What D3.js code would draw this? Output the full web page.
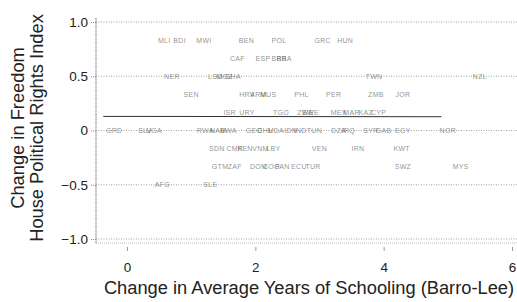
<!DOCTYPE html>
<html>
<head>
<meta charset="utf-8">
<script src="https://cdn.jsdelivr.net/npm/d3@7"></script>
<style>
  body { margin: 0; background: #fff; }
  text { font-family: "Liberation Sans", Arial, sans-serif; }
  .grid { stroke: #8a8a8a; stroke-width: 0.8; stroke-dasharray: 1,1.5; }
  .lbl { font-size: 7px; letter-spacing: 0.3px; fill: #444; fill-opacity: 0.6; }
</style>
</head>
<body>
<script>
(function(){

//country codes, schooling change (x) and FH change (y)
var codes = ["MLI","BDI","MWI","BEN","POL","GRC","HUN",
             "CAF","ESP","BRB","BRA",
             "NER","LSO","MOZ","GHA","TWN","NZL",
             "SEN","HRV","ARM","MUS","PHL","PER","ZMB","JOR",
             "ISR","URY","TGO","ZWE","SWE","MEX","MAR","KAZ","CYP",
             "GRD","SLV","UGA","RWA","NAM","BWA","GEO","CHL","MDA","IDN","IND","TUN","DZA","IRQ","SYR","GAB","EGY","NOR",
             "SDN","CMR","KEN","VNM","LBY","VEN","IRN","KWT",
             "GTM","ZAF","DOM","COG","PAN","ECU","TUR","SWZ","MYS",
             "AFG","SLE"];
var schooling = [0.58, 0.82, 1.20, 1.86, 2.37, 3.05, 3.40,
                 1.72, 2.12, 2.37, 2.45,
                 0.70, 1.38, 1.52, 1.65, 3.85, 5.50,
                 1.00, 1.87, 2.05, 2.20, 2.72, 3.22, 3.88, 4.30,
                 1.60, 1.87, 2.40, 2.78, 2.86, 3.30, 3.50, 3.72, 3.92,
                 -0.20, 0.28, 0.42, 1.22, 1.42, 1.58, 1.98, 2.15, 2.32, 2.55, 2.70, 2.92, 3.30, 3.45, 3.80, 4.00, 4.30, 5.00,
                 1.40, 1.68, 1.84, 2.08, 2.28, 3.00, 3.60, 4.28,
                 1.45, 1.68, 2.05, 2.25, 2.42, 2.68, 2.90, 4.30, 5.20,
                 0.55, 1.30];
var fhChange = [0.833, 0.833, 0.833, 0.833, 0.833, 0.833, 0.833,
                0.667, 0.667, 0.667, 0.667,
                0.5, 0.5, 0.5, 0.5, 0.5, 0.5,
                0.333, 0.333, 0.333, 0.333, 0.333, 0.333, 0.333, 0.333,
                0.167, 0.167, 0.167, 0.167, 0.167, 0.167, 0.167, 0.167, 0.167,
                0, 0, 0, 0, 0, 0, 0, 0, 0, 0, 0, 0, 0, 0, 0, 0, 0, 0,
                -0.167, -0.167, -0.167, -0.167, -0.167, -0.167, -0.167, -0.167,
                -0.333, -0.333, -0.333, -0.333, -0.333, -0.333, -0.333, -0.333, -0.333,
                -0.5, -0.5];

//fitted line endpoints
var fitX = [-0.37, 4.9];
var fitY = [0.13, 0.127];

var xTicks = [0, 2, 4, 6];
var yTicks = [1.0, 0.5, 0, -0.5, -1.0];

var width = 517,
    height = 302;

var svg = d3.select("body")
    .append("svg")
    .attr("width", width)
    .attr("height", height);

var x = d3.scaleLinear().domain([0, 6]).range([127, 512]);
var y = d3.scaleLinear().domain([-1, 1]).range([239, 22]);

var xMin = x.invert(96), xMax = x.invert(517);

//horizontal dotted gridlines
svg.selectAll(".grid")
    .data(yTicks)
    .enter()
    .append("line")
    .attr("class", "grid")
    .attr("x1", x(xMin))
    .attr("x2", x(xMax))
    .attr("y1", function(d){ return y(d); })
    .attr("y2", function(d){ return y(d); });

//bottom frame line
svg.append("line")
    .attr("x1", x(xMin)).attr("x2", x(xMax))
    .attr("y1", 243).attr("y2", 243)
    .attr("stroke", "#aaa").attr("stroke-width", 0.8)
    .attr("stroke-dasharray", "1,1");

//y axis
var yAxis = d3.axisLeft(y)
    .tickValues(yTicks)
    .tickFormat(function(d){ return d === 0 ? "0" : d3.format(".1f")(d); })
    .tickSize(6)
    .tickPadding(2);

var gy = svg.append("g")
    .attr("transform", "translate(96,0)")
    .call(yAxis);
gy.select(".domain").attr("stroke", "#999").attr("stroke-width", 1.5)
    .attr("stroke-dasharray", "1,0.6").attr("d", "M0,18V243");
gy.selectAll(".tick line").attr("stroke", "#888").attr("stroke-dasharray", "1,1");
gy.selectAll(".tick text").attr("font-size", 13.5).attr("fill", "#222");

//x axis
var xAxis = d3.axisBottom(x)
    .tickValues(xTicks)
    .tickFormat(d3.format("d"))
    .tickSize(4)
    .tickPadding(11);

var gx = svg.append("g")
    .attr("transform", "translate(0,247)")
    .call(xAxis);
gx.select(".domain").remove();
gx.selectAll(".tick line").attr("stroke", "#999");
gx.selectAll(".tick text").attr("font-size", 13.5).attr("fill", "#222");

//fitted line
svg.append("line")
    .attr("x1", x(fitX[0])).attr("x2", x(fitX[1]))
    .attr("y1", y(fitY[0])).attr("y2", y(fitY[1]))
    .attr("stroke", "#333").attr("stroke-width", 1);

//country labels
svg.selectAll(".lbl")
    .data(codes)
    .enter()
    .append("text")
    .attr("class", "lbl")
    .attr("x", function(d, i){ return x(schooling[i]); })
    .attr("y", function(d, i){ return y(fhChange[i]); })
    .attr("dy", "0.35em")
    .attr("text-anchor", "middle")
    .text(function(d){ return d; });

//axis titles
svg.append("text")
    .attr("x", 309).attr("y", 294)
    .attr("text-anchor", "middle")
    .attr("font-size", 18.3).attr("fill", "#222")
    .text("Change in Average Years of Schooling (Barro-Lee)");

var yTitle = svg.append("text")
    .attr("transform", "translate(0,128) rotate(-90)")
    .attr("text-anchor", "middle")
    .attr("font-size", 18.3).attr("fill", "#222");
yTitle.append("tspan").attr("x", 0).attr("y", 24).text("Change in Freedom");
yTitle.append("tspan").attr("x", 0).attr("y", 43).text("House Political Rights Index");

})();
</script>
</body>
</html>
